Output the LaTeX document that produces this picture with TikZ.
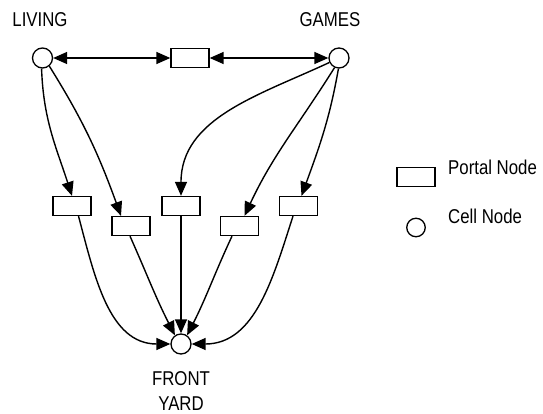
\documentclass[tikz,border=0pt]{standalone}
\usepackage{fontspec}
\setmainfont{Liberation Sans}[FakeStretch=0.84]
\usetikzlibrary{arrows.meta}
\begin{document}
\begin{tikzpicture}[x=1pt,y=-1pt,
  every node/.style={font=\fontsize{20}{24.5}\selectfont},
  cell/.style={circle,draw,line width=1.3pt,minimum size=20pt,inner sep=0pt},
  portal/.style={rectangle,draw,line width=1.3pt,minimum width=38pt,minimum height=19pt,inner sep=0pt},
  label/.style={inner sep=0pt},
  link/.style={line width=1.4pt,-{Triangle[length=14pt,width=12pt]}},
  duplex/.style={line width=1.4pt,{Triangle[length=14pt,width=12pt]}-{Triangle[length=14pt,width=12pt]}}]
\useasboundingbox (0,0) rectangle (543,414);

% cells
\node[cell] (living) at (42.5,58) {};
\node[cell] (games) at (339,58) {};
\node[cell] (yard) at (181,344) {};

% portals
\node[portal] (ptop) at (190,58) {};
\node[portal] (p1) at (72,206) {};
\node[portal] (p2) at (131,226) {};
\node[portal] (p3) at (181,206) {};
\node[portal] (p4) at (239.5,226) {};
\node[portal] (p5) at (298.5,206) {};

% cell names
\node[label,anchor=base] (tliving) at (40,27) {LIVING};
\node[label,anchor=base] (tgames) at (330,27) {GAMES};
\node[label,align=center] (tyard) at (181,391) {FRONT\\YARD};

% legend
\node[portal] (lportal) at (416,177) {};
\node[label,anchor=base west] (tportal) at (448,175) {Portal Node};
\node[cell,minimum size=18.5pt] (lcell) at (416,227.5) {};
\node[label,anchor=base west] (tcell) at (448,223) {Cell Node};

% connectors between the upper cells
\draw[duplex] (living) -- (ptop);
\draw[duplex] (ptop) -- (games);

% cells to portals
\draw[link] (living.-95) to[out=-88,in=108] (p1.north);
\draw[link] (living.-50) to[out=-58,in=110] ([xshift=-10pt]p2.north);
\draw[link] (games.205) to[out=205,in=90] (p3.north);
\draw[link] (games.-115) to[out=-122,in=65] ([xshift=5pt]p4.north);
\draw[link] (games.-93) to[out=-100,in=70] ([xshift=3pt]p5.north);

% portals to the front yard
\draw[link] ([xshift=6.5pt]p1.south) to[out=-75,in=180] (yard.west);
\draw[link] ([xshift=-1pt]p2.south) to[out=-66,in=117] (yard.125);
\draw[link] (p3.south) -- (yard.north);
\draw[link] ([xshift=-7.5pt]p4.south) to[out=-115,in=63] (yard.55);
\draw[link] ([xshift=-5.5pt]p5.south) to[out=-108,in=0] (yard.east);
\end{tikzpicture}
\end{document}
